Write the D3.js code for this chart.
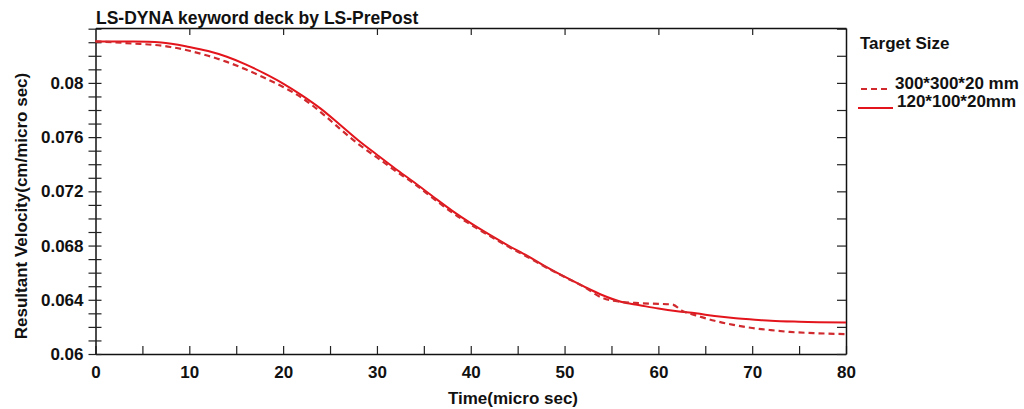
<!DOCTYPE html>
<html>
<head>
<meta charset="utf-8">
<script src="https://cdn.jsdelivr.net/npm/d3@7"></script>
<style>
  body { margin: 0; background: #fff; }
  text { font-family: "Liberation Sans", Arial, sans-serif; font-weight: bold; fill: #111; }
</style>
</head>
<body>
<div id="chart"></div>
<script>
// Time (micro sec) and resultant velocity (cm/micro sec)
var timeLarge = [0, 2, 4, 6, 8, 10, 12, 14, 16, 18, 20, 22, 24, 26, 28, 30, 32, 34, 36, 38, 40, 42, 44, 46, 48, 50, 52, 54, 56, 58, 60, 61.5, 62.5, 64, 66, 68, 70, 72, 74, 77, 80];
var velLarge = [0.08306, 0.08300, 0.08290, 0.08282, 0.08265, 0.08237, 0.08200, 0.08155, 0.08100, 0.08038, 0.07970, 0.07890, 0.07785, 0.07665, 0.07550, 0.07450, 0.07350, 0.07255, 0.07148, 0.07045, 0.06955, 0.06872, 0.06792, 0.06718, 0.06640, 0.06568, 0.06498, 0.06415, 0.06385, 0.06375, 0.06370, 0.06365, 0.06320, 0.06285, 0.06245, 0.06215, 0.06192, 0.06176, 0.06163, 0.06153, 0.06147];

var timeSmall = [0, 4, 7, 10, 12, 14, 16, 18, 20, 22, 24, 26, 28, 30, 32, 34, 36, 38, 40, 42, 44, 46, 48, 50, 52, 54, 56, 58, 60, 62, 64, 66, 68, 70, 72, 75, 80];
var velSmall = [0.08306, 0.08305, 0.08298, 0.08265, 0.08235, 0.08193, 0.08137, 0.08070, 0.07995, 0.07908, 0.07810, 0.07695, 0.07577, 0.07470, 0.07365, 0.07265, 0.07160, 0.07058, 0.06965, 0.06880, 0.06800, 0.06725, 0.06645, 0.06570, 0.06500, 0.06435, 0.06385, 0.06360, 0.06335, 0.06315, 0.06300, 0.06280, 0.06265, 0.06255, 0.06245, 0.06238, 0.06233];

var seriesNames = ["300*300*20 mm", "120*100*20mm"];
var xTickLabels = [0, 10, 20, 30, 40, 50, 60, 70, 80];
var yTickLabels = [0.06, 0.064, 0.068, 0.072, 0.076, 0.08];

var margin = { top: 28, right: 178, bottom: 55, left: 95.5 },
    width = 1024 - margin.left - margin.right,
    height = 409 - margin.top - margin.bottom;

var svg = d3.select("#chart")
    .append("svg")
        .attr("width", 1024)
        .attr("height", 409);

var g = svg.append("g")
    .attr("transform", "translate(" + margin.left + "," + margin.top + ")");

var x = d3.scaleLinear().domain([0, 80]).range([0, width]);
var y = d3.scaleLinear().domain([0.06, 0.08405]).range([height, 0]);

// Bottom axis: ticks every 5 pointing inward
var xAxis = g.append("g")
    .attr("transform", "translate(0," + height + ")")
    .call(d3.axisBottom(x).tickValues(d3.range(0, 81, 5)).tickSize(-8).tickSizeOuter(0)
        .tickFormat(function(d) { return xTickLabels.indexOf(d) >= 0 ? d : ""; }));
xAxis.selectAll("text").attr("y", 24).attr("dy", 0).style("font-size", "17px");

// Top axis
g.append("g")
    .call(d3.axisTop(x).tickValues(d3.range(10, 71, 10)).tickSize(-7).tickSizeOuter(0).tickFormat(""));

// Left axis: ticks every 0.001 crossing the line
var yAxis = g.append("g")
    .call(d3.axisLeft(y).tickValues(d3.range(0, 25).map(function(i) { return +(0.06 + i * 0.001).toFixed(3); }))
        .tickSize(7).tickSizeOuter(0)
        .tickFormat(function(d) { return yTickLabels.indexOf(d) >= 0 ? String(d) : ""; }));
yAxis.selectAll(".tick line").attr("x2", 6).attr("x1", -7);
yAxis.selectAll("text").attr("x", -12).style("font-size", "17px");

// Right axis
g.append("g")
    .attr("transform", "translate(" + width + ",0)")
    .call(d3.axisRight(y).tickValues(d3.range(0, 13).map(function(i) { return +(0.06 + i * 0.002).toFixed(3); }))
        .tickSize(-9).tickSizeOuter(0).tickFormat(""));

g.selectAll(".domain").attr("stroke", "#111").attr("stroke-width", 1.5);
g.selectAll(".tick line").attr("stroke", "#222").attr("stroke-width", 1.2);

var line = d3.line()
    .x(function(d) { return x(d[0]); })
    .y(function(d) { return y(d[1]); })
    .curve(d3.curveMonotoneX);

g.append("path")
    .datum(d3.zip(timeSmall, velSmall))
    .attr("fill", "none")
    .attr("stroke", "#e3141b")
    .attr("stroke-width", 2)
    .attr("d", line);

g.append("path")
    .datum(d3.zip(timeLarge, velLarge))
    .attr("fill", "none")
    .attr("stroke", "#d02a2e")
    .attr("stroke-width", 2.2)
    .attr("stroke-dasharray", "6,4")
    .attr("d", line);

// Title
svg.append("text")
    .attr("x", 96)
    .attr("y", 24)
    .style("font-size", "17.5px")
    .text("LS-DYNA keyword deck by LS-PrePost");

// Axis titles
svg.append("text")
    .attr("x", 513)
    .attr("y", 404)
    .attr("text-anchor", "middle")
    .style("font-size", "17px")
    .text("Time(micro sec)");

svg.append("text")
    .attr("transform", "translate(27,206) rotate(-90)")
    .attr("text-anchor", "middle")
    .style("font-size", "17px")
    .text("Resultant Velocity(cm/micro sec)");

// Legend
var legend = svg.append("g").attr("transform", "translate(860,0)");
legend.append("text").attr("x", 0).attr("y", 49).style("font-size", "17px").text("Target Size");

legend.append("line").attr("x1", -2).attr("x2", 31).attr("y1", 89).attr("y2", 89)
    .attr("stroke", "#d02a2e").attr("stroke-width", 2.2).attr("stroke-dasharray", "6,4").attr("stroke-dashoffset", -3);
legend.append("text").attr("x", 35).attr("y", 89).style("font-size", "17px").text(seriesNames[0]);

legend.append("line").attr("x1", -2).attr("x2", 33).attr("y1", 108).attr("y2", 108)
    .attr("stroke", "#e3141b").attr("stroke-width", 2);
legend.append("text").attr("x", 37).attr("y", 107).style("font-size", "17px").text(seriesNames[1]);
</script>
</body>
</html>
